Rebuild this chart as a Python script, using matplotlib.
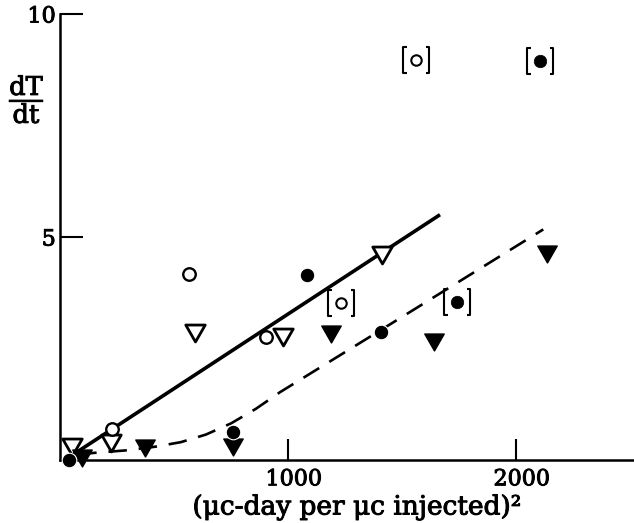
import matplotlib
matplotlib.use("Agg")
import matplotlib.pyplot as plt
import matplotlib.patheffects as pe
from matplotlib.path import Path
from matplotlib.transforms import ScaledTranslation

# ---- data ----
open_circ_x = [228, 566, 903]
open_circ_y = [0.69, 4.17, 2.76]
open_circ_br_x = [1232, 1561]
open_circ_br_y = [3.52, 8.97]

fill_circ_x = [40, 759, 1083, 1408]
fill_circ_y = [0.0, 0.62, 4.15, 2.87]
fill_circ_br_x = [1741, 2105]
fill_circ_br_y = [3.54, 8.95]

open_tri_x = [53, 224, 592, 978, 1412]
open_tri_y = [0.29, 0.38, 2.85, 2.76, 4.60]

fill_tri_x = [96, 375, 761, 1189, 1640, 2136]
fill_tri_y = [0.04, 0.27, 0.29, 2.82, 2.65, 4.62]

solid_x = [60, 1667]
solid_y = [0.13, 5.50]

dash_x = [80, 150, 300, 420, 530, 640, 750, 860, 965, 1400, 2120]
dash_y = [0.12, 0.16, 0.22, 0.30, 0.40, 0.57, 0.82, 1.15, 1.52, 2.89, 5.17]

xticks = [1000, 2000]
xtick_labels = ["1000", "2000"]
yticks = [5, 10]
ytick_labels = ["5", "10"]

# ---- figure ----
plt.rcParams['mathtext.fontset'] = 'dejavuserif'
fig = plt.figure(figsize=(6.34, 5.23), dpi=100)
ax = fig.add_axes([60 / 634, 63 / 523, 574 / 634, 446 / 523])
ax.set_xlim(0, 2518)
ax.set_ylim(0, 10)

for s in ['top', 'right']:
    ax.spines[s].set_visible(False)
for s in ['left', 'bottom']:
    ax.spines[s].set_linewidth(1.8)

thick = [pe.withStroke(linewidth=0.7, foreground='black')]

ax.set_xticks(xticks)
ax.set_xticklabels(xtick_labels, family='DejaVu Serif', fontsize=16)
ax.set_yticks(yticks)
ax.set_yticklabels(ytick_labels, family='DejaVu Serif', fontsize=16)
ax.tick_params(axis='x', direction='in', length=15, width=1.5, pad=6)
ax.tick_params(axis='y', direction='in', length=16.5, width=1.5, pad=3)
for lab in ax.get_xticklabels():
    lab.set_transform(lab.get_transform() + ScaledTranslation(6 / 100, 0, fig.dpi_scale_trans))
    lab.set_path_effects(thick)
for lab in ax.get_yticklabels():
    lab.set_path_effects(thick)

# lines
ax.plot(solid_x, solid_y, color='black', lw=2.6, solid_capstyle='butt', zorder=2)
ax.plot(dash_x, dash_y, color='black', lw=1.9, dashes=(7, 4.5), zorder=2)

# markers
tri = Path([(-1, 0.87), (1, 0.87), (0, -0.87), (-1, 0.87)],
           [Path.MOVETO, Path.LINETO, Path.LINETO, Path.CLOSEPOLY])
brk = Path([(-0.72, 1), (-1, 1), (-1, -1), (-0.72, -1),
            (0.72, 1), (1, 1), (1, -1), (0.72, -1)],
           [Path.MOVETO, Path.LINETO, Path.LINETO, Path.LINETO,
            Path.MOVETO, Path.LINETO, Path.LINETO, Path.LINETO])

common = dict(linestyle='none', clip_on=False, zorder=3)
ax.plot(open_tri_x, open_tri_y, marker=tri, ms=14, mfc='white', mec='black', mew=2.0, **common)
ax.plot(fill_tri_x, fill_tri_y, marker=tri, ms=14, mfc='black', mec='black', mew=1.0, **common)
ax.plot(open_circ_x, open_circ_y, marker='o', ms=9, mfc='white', mec='black', mew=1.7, **common)
ax.plot(fill_circ_x, fill_circ_y, marker='o', ms=10.5, mfc='black', mec='white', mew=0.8, **common)

ax.plot(open_circ_br_x, open_circ_br_y, marker='o', ms=7.5, mfc='white', mec='black', mew=1.5, **common)
ax.plot(fill_circ_br_x, fill_circ_br_y, marker='o', ms=9, mfc='black', mec='black', mew=0.5, **common)
ax.plot(open_circ_br_x + fill_circ_br_x, open_circ_br_y + fill_circ_br_y, marker=brk, ms=19,
        mfc='none', mec='black', mew=1.5, **common)

# labels
fig.text(357 / 634, 1 - 507 / 523, "(μc-day per μc injected)²", family='DejaVu Serif',
         fontsize=19, ha='center', va='center', path_effects=thick)
fig.text(27 / 634, 1 - 99 / 523, r"$\dfrac{\mathrm{dT}}{\mathrm{dt}}$",
         fontsize=18.5, ha='center', va='center', path_effects=thick)

fig.savefig("out.png", dpi=100)
